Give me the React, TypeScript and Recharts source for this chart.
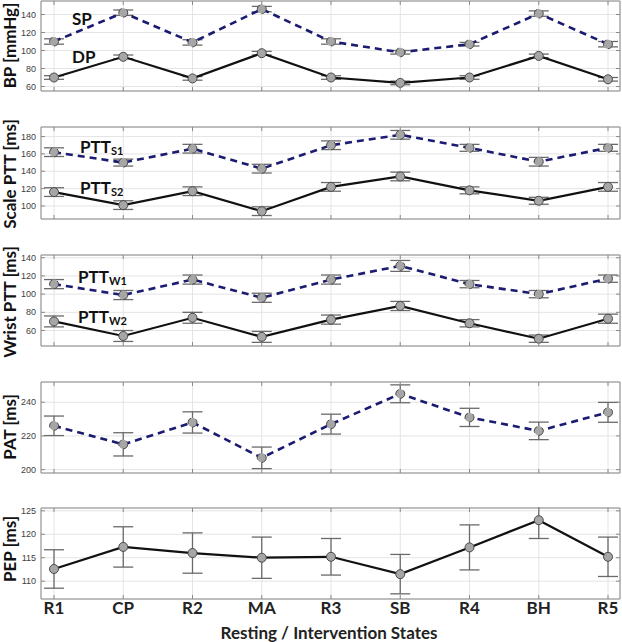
import React from 'react';
import { LineChart, Line, XAxis, YAxis, CartesianGrid, ErrorBar } from 'recharts';

// categories
const STATES = ['R1', 'CP', 'R2', 'MA', 'R3', 'SB', 'R4', 'BH', 'R5'];

// blood pressure [mmHg]
const SP = [110, 142, 109, 146, 110, 98, 107, 141, 107];
const SP_ERR = [3, 3, 3, 3, 3, 2, 2, 3, 3];
const DP = [70, 93, 69, 97, 70, 64, 70, 94, 68];
const DP_ERR = [2, 2, 2, 2, 2, 2, 2, 2, 2];

// scale PTT [ms]
const PTT_S1 = [162, 150, 166, 143, 170, 182, 167, 151, 167];
const PTT_S1_ERR = [5, 4, 5, 5, 5, 5, 4, 5, 4];
const PTT_S2 = [116, 101, 117, 94, 122, 134, 118, 106, 122];
const PTT_S2_ERR = [5, 5, 5, 5, 5, 5, 4, 4, 5];

// wrist PTT [ms]
const PTT_W1 = [111, 99, 116, 96, 116, 131, 111, 100, 117];
const PTT_W1_ERR = [5, 5, 5, 5, 5, 6, 4, 4, 4];
const PTT_W2 = [70, 54, 74, 53, 72, 87, 68, 51, 73];
const PTT_W2_ERR = [6, 6, 6, 6, 5, 5, 4, 4, 5];

// PAT [ms]
const PAT = [226, 215, 228, 207, 227, 245, 231, 223, 234];
const PAT_ERR = [5.8, 6.9, 6.3, 6.4, 5.9, 5.3, 5.4, 5.2, 5.9];

// PEP [ms]
const PEP = [112.6, 117.3, 116, 115, 115.2, 111.5, 117.2, 123, 115.2];
const PEP_ERR = [4.1, 4.3, 4.3, 4.4, 3.9, 4.2, 4.8, 3.9, 4.2];

// y tick labels per panel
const BP_TICKS = [60, 80, 100, 120, 140];
const SCALE_TICKS = [100, 120, 140, 160, 180];
const WRIST_TICKS = [60, 80, 100, 120, 140];
const PAT_TICKS = [200, 220, 240];
const PEP_TICKS = [110, 115, 120, 125];

const data = STATES.map((state, i) => ({
  state,
  sp: SP[i], spErr: SP_ERR[i],
  dp: DP[i], dpErr: DP_ERR[i],
  s1: PTT_S1[i], s1Err: PTT_S1_ERR[i],
  s2: PTT_S2[i], s2Err: PTT_S2_ERR[i],
  w1: PTT_W1[i], w1Err: PTT_W1_ERR[i],
  w2: PTT_W2[i], w2Err: PTT_W2_ERR[i],
  pat: PAT[i], patErr: PAT_ERR[i],
  pep: PEP[i], pepErr: PEP_ERR[i],
}));

const BOX = '#8a8a8a';
const GRID = '#e4e4e4';
const NAVY = '#1b1b72';
const LABEL_FONT = 'Lato, "Open Sans", sans-serif';
const TICK_FONT = '"Liberation Sans", Arial, sans-serif';
const X_PAD = { left: 13, right: 12 };

const PANELS = [
  { top: 1, bottom: 91, domain: [55, 155], ticks: BP_TICKS, series: [{ key: 'sp', err: 'spErr', dashed: true }, { key: 'dp', err: 'dpErr', dashed: false }] },
  { top: 127, bottom: 219, domain: [85, 191], ticks: SCALE_TICKS, series: [{ key: 's1', err: 's1Err', dashed: true }, { key: 's2', err: 's2Err', dashed: false }] },
  { top: 255, bottom: 346, domain: [43, 143], ticks: WRIST_TICKS, series: [{ key: 'w1', err: 'w1Err', dashed: true }, { key: 'w2', err: 'w2Err', dashed: false }] },
  { top: 382, bottom: 473, domain: [198, 252], ticks: PAT_TICKS, series: [{ key: 'pat', err: 'patErr', dashed: true }] },
  { top: 508, bottom: 599, domain: [106.2, 125.6], ticks: PEP_TICKS, series: [{ key: 'pep', err: 'pepErr', dashed: false }] },
];

const BottomTick = (props: any) => {
  const { x, y, payload, showLabel } = props;
  return (
    <g>
      <line x1={x} y1={y} x2={x} y2={y - 4} stroke={BOX} />
      {showLabel && (
        <text x={x} y={y + 15} textAnchor="middle" fontFamily={LABEL_FONT} fontWeight={700} fontSize={17} fill="#222">
          {payload.value}
        </text>
      )}
    </g>
  );
};

const TopTick = (props: any) => {
  const { x, y } = props;
  return <line x1={x} y1={y} x2={x} y2={y + 4} stroke={BOX} />;
};

const LeftTick = (props: any) => {
  const { x, y, payload } = props;
  return (
    <g>
      <line x1={x} y1={y} x2={x + 4} y2={y} stroke={BOX} />
      <text x={x - 5} y={y} dy="0.35em" textAnchor="end" fontFamily={TICK_FONT} fontSize={9} fill="#404040">
        {payload.value}
      </text>
    </g>
  );
};

const RightTick = (props: any) => {
  const { x, y } = props;
  return <line x1={x} y1={y} x2={x - 4} y2={y} stroke={BOX} />;
};

const Panel = ({ cfg, last }: { cfg: typeof PANELS[number]; last: boolean }) => {
  const bottomH = last ? 20 : 1;
  const height = 1 + (cfg.bottom - cfg.top) + bottomH;
  return (
    <div style={{ position: 'absolute', left: 0, top: cfg.top - 1 }}>
      <LineChart width={622} height={height} data={data} margin={{ top: 0, right: 1, bottom: 0, left: 0 }}>
        <CartesianGrid stroke={GRID} />
        <XAxis
          dataKey="state"
          scale="point"
          padding={X_PAD}
          height={bottomH}
          interval={0}
          tickSize={0}
          tickMargin={0}
          tickLine={false}
          axisLine={{ stroke: BOX }}
          tick={(p: any) => <BottomTick {...p} showLabel={last} />}
        />
        <XAxis
          xAxisId="top"
          orientation="top"
          dataKey="state"
          scale="point"
          padding={X_PAD}
          height={1}
          interval={0}
          tickSize={0}
          tickMargin={0}
          tickLine={false}
          axisLine={{ stroke: BOX }}
          tick={TopTick}
        />
        <YAxis
          type="number"
          domain={cfg.domain}
          ticks={cfg.ticks}
          allowDataOverflow
          width={41}
          interval={0}
          tickSize={0}
          tickMargin={0}
          tickLine={false}
          axisLine={{ stroke: BOX }}
          tick={LeftTick}
        />
        <YAxis
          yAxisId="right"
          orientation="right"
          type="number"
          domain={cfg.domain}
          ticks={cfg.ticks}
          allowDataOverflow
          width={1}
          interval={0}
          tickSize={0}
          tickMargin={0}
          tickLine={false}
          axisLine={{ stroke: BOX }}
          tick={RightTick}
        />
        {cfg.series.map((s) => (
          <Line
            key={s.key}
            type="linear"
            dataKey={s.key}
            stroke={s.dashed ? NAVY : '#111'}
            strokeWidth={s.dashed ? 2.6 : 2.2}
            strokeDasharray={s.dashed ? '7 5' : undefined}
            dot={{ r: 4.5, fill: '#a6a6a6', stroke: '#4a4a4a', strokeWidth: 1 }}
            isAnimationActive={false}
          >
            <ErrorBar dataKey={s.err} width={10} stroke="#6a6a6a" strokeWidth={1.3} direction="y" />
          </Line>
        ))}
      </LineChart>
    </div>
  );
};

const yTitle = (text: string, cy: number) => (
  <text
    key={text}
    x={9}
    y={cy}
    transform={`rotate(-90 9 ${cy})`}
    textAnchor="middle"
    dominantBaseline="central"
    fontFamily={LABEL_FONT}
    fontWeight={700}
    fontSize={17}
    fill="#111"
  >
    {text}
  </text>
);

const seriesTag = (main: string, sub: string, x: number, y: number) => (
  <text key={main + sub + y} x={x} y={y} fontFamily={LABEL_FONT} fontWeight={700} fontSize={17} fill="#111">
    {main}
    {sub && (
      <tspan fontSize={11} dy={2}>
        {sub}
      </tspan>
    )}
  </text>
);

export default function App() {
  return (
    <div style={{ position: 'absolute', left: 0, top: 0, width: 622, height: 642, background: '#fff', overflow: 'hidden' }}>
      {PANELS.map((cfg, i) => (
        <Panel key={i} cfg={cfg} last={i === PANELS.length - 1} />
      ))}
      <svg width={622} height={642} style={{ position: 'absolute', left: 0, top: 0, pointerEvents: 'none' }}>
        {yTitle('BP [mmHg]', 45.5)}
        {yTitle('Scale PTT [ms]', 174)}
        {yTitle('Wrist PTT [ms]', 302)}
        {yTitle('PAT [ms]', 427)}
        {yTitle('PEP [ms]', 549)}
        {seriesTag('SP', '', 72, 25)}
        {seriesTag('DP', '', 72, 63)}
        {seriesTag('PTT', 'S1', 80, 152.7)}
        {seriesTag('PTT', 'S2', 80, 194)}
        {seriesTag('PTT', 'W1', 78, 283.3)}
        {seriesTag('PTT', 'W2', 78, 323.3)}
        <text x={329} y={639} textAnchor="middle" fontFamily={LABEL_FONT} fontWeight={700} fontSize={17} fill="#222">
          Resting / Intervention States
        </text>
      </svg>
    </div>
  );
}
